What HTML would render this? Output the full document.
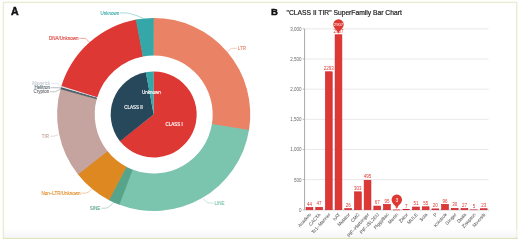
<!DOCTYPE html>
<html><head><meta charset="utf-8"><style>
html,body{margin:0;padding:0;background:#fff;}
body{width:520px;height:241px;overflow:hidden;}
svg{display:block;font-family:"Liberation Sans",sans-serif;will-change:transform;}
</style></head><body>
<svg width="520" height="241" viewBox="0 0 520 241">
<rect x="3.4" y="2.4" width="513.3" height="235.8" fill="none" stroke="#eaecd2" stroke-width="1.4"/>
<line x1="3" y1="238.4" x2="518" y2="238.4" stroke="#dde2c0" stroke-width="1.4"/>
<defs><linearGradient id="bb" x1="0" y1="0" x2="0" y2="1"><stop offset="0" stop-color="#fefefb"/><stop offset="0.55" stop-color="#f9f9fc"/><stop offset="1" stop-color="#f6f6fa"/></linearGradient></defs>
<rect x="4" y="229.5" width="512.5" height="8" fill="url(#bb)"/>
<text x="10.9" y="15.1" font-size="10.6" font-weight="bold" fill="#111" stroke="#111" stroke-width="0.45">A</text>
<text x="270.9" y="15.3" font-size="9.6" font-weight="bold" fill="#111" stroke="#111" stroke-width="0.4">B</text>
<path d="M153.11,17.90 A96.6,96.6 0 0 1 248.93,130.69 L211.87,124.39 A59.0,59.0 0 0 0 153.34,55.50 Z" fill="#ea8366"/>
<path d="M249.03,130.11 A96.6,96.6 0 0 1 118.85,204.59 L132.41,169.53 A59.0,59.0 0 0 0 211.92,124.03 Z" fill="#7bc4ae"/>
<path d="M119.40,204.80 A96.6,96.6 0 0 1 108.57,199.91 L126.14,166.67 A59.0,59.0 0 0 0 132.75,169.65 Z" fill="#58a48b"/>
<path d="M109.10,200.19 A96.6,96.6 0 0 1 77.63,174.04 L107.24,150.86 A59.0,59.0 0 0 0 126.46,166.83 Z" fill="#de8822"/>
<path d="M78.00,174.50 A96.6,96.6 0 0 1 60.59,88.77 L96.83,98.78 A59.0,59.0 0 0 0 107.46,151.15 Z" fill="#c5a39e"/>
<path d="M60.44,89.34 A96.6,96.6 0 0 1 60.89,87.71 L97.01,98.14 A59.0,59.0 0 0 0 96.74,99.13 Z" fill="#58666a"/>
<path d="M60.73,88.28 A96.6,96.6 0 0 1 61.20,86.66 L97.20,97.50 A59.0,59.0 0 0 0 96.92,98.49 Z" fill="#3e5562"/>
<path d="M61.03,87.23 A96.6,96.6 0 0 1 61.55,85.53 L97.42,96.81 A59.0,59.0 0 0 0 97.10,97.84 Z" fill="#e2e6ea"/>
<path d="M61.37,86.10 A96.6,96.6 0 0 1 136.34,19.47 L143.10,56.46 A59.0,59.0 0 0 0 97.31,97.15 Z" fill="#de3834"/>
<path d="M135.76,19.58 A96.6,96.6 0 0 1 153.70,17.90 L153.70,55.50 A59.0,59.0 0 0 0 142.75,56.53 Z" fill="#36a7a8"/>
<path d="M153.70,114.50 L153.44,71.50 A43.0,43.0 0 1 1 119.79,140.94 Z" fill="#de3834"/>
<path d="M153.70,114.50 L119.95,141.15 A43.0,43.0 0 0 1 145.97,72.20 Z" fill="#27475a"/>
<path d="M153.70,114.50 L145.72,72.25 A43.0,43.0 0 0 1 153.70,71.50 Z" fill="#36a7a8"/>
<text x="174.20" y="126.10" font-size="4.5" fill="#fff" text-anchor="middle" stroke="#fff" stroke-width="0.15">CLASS I</text>
<text x="133.50" y="108.50" font-size="4.5" fill="#fff" text-anchor="middle" stroke="#fff" stroke-width="0.15">CLASS II</text>
<text x="151.50" y="94.20" font-size="4.5" fill="#fff" text-anchor="middle" stroke="#fff" stroke-width="0.15">Unknown</text>
<path d="M143.6,18.4 Q131,12.9 125,12.9 L120,12.9" fill="none" stroke="#36a7a8" stroke-width="0.5" stroke-opacity="0.85"/>
<text x="119.30" y="14.50" font-size="4.5" fill="#36a7a8" text-anchor="end" stroke="#36a7a8" stroke-width="0.1">Unknown</text>
<path d="M89.6,42.4 L85.6,38.4 L79.4,38.4" fill="none" stroke="#de3834" stroke-width="0.5" stroke-opacity="0.85"/>
<text x="78.60" y="40.00" font-size="4.5" fill="#de3834" text-anchor="end" stroke="#de3834" stroke-width="0.1">DNA/Unknown</text>
<path d="M227.5,51.6 L231.4,48.3 L236.8,48.3" fill="none" stroke="#ea8366" stroke-width="0.5" stroke-opacity="0.85"/>
<text x="237.80" y="49.90" font-size="4.5" fill="#ea8366" text-anchor="start" stroke="#ea8366" stroke-width="0.1">LTR</text>
<path d="M60.3,86.9 L58.4,83.6 L50.9,83.6" fill="none" stroke="#c4ccd3" stroke-width="0.5" stroke-opacity="0.85"/>
<text x="50.30" y="84.60" font-size="4.5" fill="#c4ccd3" text-anchor="end" stroke="#c4ccd3" stroke-width="0.1">Maverick</text>
<path d="M60.6,87.8 L50.6,87.7" fill="none" stroke="#506671" stroke-width="0.5" stroke-opacity="0.85"/>
<text x="50.10" y="89.30" font-size="4.5" fill="#506671" text-anchor="end" stroke="#506671" stroke-width="0.1">Helitron</text>
<path d="M60.2,89.2 L55.2,91.8 L49.9,91.8" fill="none" stroke="#6e7074" stroke-width="0.5" stroke-opacity="0.85"/>
<text x="49.30" y="93.20" font-size="4.5" fill="#6e7074" text-anchor="end" stroke="#6e7074" stroke-width="0.1">Crypton</text>
<path d="M58.2,134.6 L54.2,136.2 L50.2,136.2" fill="none" stroke="#c5a39e" stroke-width="0.5" stroke-opacity="0.85"/>
<text x="49.00" y="137.80" font-size="4.5" fill="#c5a39e" text-anchor="end" stroke="#c5a39e" stroke-width="0.1">TIR</text>
<path d="M91.6,189.2 Q88,193.1 85.8,193.1 L81.2,193.1" fill="none" stroke="#de8822" stroke-width="0.5" stroke-opacity="0.85"/>
<text x="80.40" y="194.70" font-size="4.5" fill="#de8822" text-anchor="end" stroke="#de8822" stroke-width="0.1">Non&#8211;LTR/Unknown</text>
<path d="M113.8,202.4 Q108,208.2 105.8,208.2 L101.2,208.2" fill="none" stroke="#58a48b" stroke-width="0.5" stroke-opacity="0.85"/>
<text x="100.20" y="209.80" font-size="4.5" fill="#58a48b" text-anchor="end" stroke="#58a48b" stroke-width="0.1">SINE</text>
<path d="M203.1,198.9 L208,203 L213.6,203" fill="none" stroke="#7bc4ae" stroke-width="0.5" stroke-opacity="0.85"/>
<text x="214.60" y="204.60" font-size="4.5" fill="#7bc4ae" text-anchor="start" stroke="#7bc4ae" stroke-width="0.1">LINE</text>
<text x="286.6" y="14.9" font-size="6.72" fill="#222" stroke="#222" stroke-width="0.2">"CLASS II TIR" SuperFamily Bar Chart</text>
<line x1="302.8" y1="209.80" x2="304.6" y2="209.80" stroke="#888" stroke-width="0.6"/>
<text x="301.60" y="211.80" font-size="4.5" fill="#666" text-anchor="end" >0</text>
<line x1="304.6" y1="179.64" x2="488.6" y2="179.64" stroke="#e3e3e3" stroke-width="0.8"/>
<line x1="302.8" y1="179.64" x2="304.6" y2="179.64" stroke="#888" stroke-width="0.6"/>
<text x="301.60" y="181.64" font-size="4.5" fill="#666" text-anchor="end" >500</text>
<line x1="304.6" y1="149.48" x2="488.6" y2="149.48" stroke="#e3e3e3" stroke-width="0.8"/>
<line x1="302.8" y1="149.48" x2="304.6" y2="149.48" stroke="#888" stroke-width="0.6"/>
<text x="301.60" y="151.48" font-size="4.5" fill="#666" text-anchor="end" >1,000</text>
<line x1="304.6" y1="119.33" x2="488.6" y2="119.33" stroke="#e3e3e3" stroke-width="0.8"/>
<line x1="302.8" y1="119.33" x2="304.6" y2="119.33" stroke="#888" stroke-width="0.6"/>
<text x="301.60" y="121.33" font-size="4.5" fill="#666" text-anchor="end" >1,500</text>
<line x1="304.6" y1="89.17" x2="488.6" y2="89.17" stroke="#e3e3e3" stroke-width="0.8"/>
<line x1="302.8" y1="89.17" x2="304.6" y2="89.17" stroke="#888" stroke-width="0.6"/>
<text x="301.60" y="91.17" font-size="4.5" fill="#666" text-anchor="end" >2,000</text>
<line x1="304.6" y1="59.01" x2="488.6" y2="59.01" stroke="#e3e3e3" stroke-width="0.8"/>
<line x1="302.8" y1="59.01" x2="304.6" y2="59.01" stroke="#888" stroke-width="0.6"/>
<text x="301.60" y="61.01" font-size="4.5" fill="#666" text-anchor="end" >2,500</text>
<line x1="304.6" y1="28.85" x2="488.6" y2="28.85" stroke="#e3e3e3" stroke-width="0.8"/>
<line x1="302.8" y1="28.85" x2="304.6" y2="28.85" stroke="#888" stroke-width="0.6"/>
<text x="301.60" y="30.85" font-size="4.5" fill="#666" text-anchor="end" >3,000</text>
<line x1="304.6" y1="28.85" x2="304.6" y2="209.8" stroke="#a8a8a8" stroke-width="1.0"/>
<line x1="304.6" y1="209.8" x2="488.6" y2="209.8" stroke="#ccc" stroke-width="0.6"/>
<line x1="304.60" y1="209.8" x2="304.60" y2="211.4" stroke="#ccc" stroke-width="0.5"/>
<line x1="314.28" y1="209.8" x2="314.28" y2="211.4" stroke="#ccc" stroke-width="0.5"/>
<line x1="323.97" y1="209.8" x2="323.97" y2="211.4" stroke="#ccc" stroke-width="0.5"/>
<line x1="333.65" y1="209.8" x2="333.65" y2="211.4" stroke="#ccc" stroke-width="0.5"/>
<line x1="343.34" y1="209.8" x2="343.34" y2="211.4" stroke="#ccc" stroke-width="0.5"/>
<line x1="353.02" y1="209.8" x2="353.02" y2="211.4" stroke="#ccc" stroke-width="0.5"/>
<line x1="362.71" y1="209.8" x2="362.71" y2="211.4" stroke="#ccc" stroke-width="0.5"/>
<line x1="372.39" y1="209.8" x2="372.39" y2="211.4" stroke="#ccc" stroke-width="0.5"/>
<line x1="382.07" y1="209.8" x2="382.07" y2="211.4" stroke="#ccc" stroke-width="0.5"/>
<line x1="391.76" y1="209.8" x2="391.76" y2="211.4" stroke="#ccc" stroke-width="0.5"/>
<line x1="401.44" y1="209.8" x2="401.44" y2="211.4" stroke="#ccc" stroke-width="0.5"/>
<line x1="411.13" y1="209.8" x2="411.13" y2="211.4" stroke="#ccc" stroke-width="0.5"/>
<line x1="420.81" y1="209.8" x2="420.81" y2="211.4" stroke="#ccc" stroke-width="0.5"/>
<line x1="430.49" y1="209.8" x2="430.49" y2="211.4" stroke="#ccc" stroke-width="0.5"/>
<line x1="440.18" y1="209.8" x2="440.18" y2="211.4" stroke="#ccc" stroke-width="0.5"/>
<line x1="449.86" y1="209.8" x2="449.86" y2="211.4" stroke="#ccc" stroke-width="0.5"/>
<line x1="459.55" y1="209.8" x2="459.55" y2="211.4" stroke="#ccc" stroke-width="0.5"/>
<line x1="469.23" y1="209.8" x2="469.23" y2="211.4" stroke="#ccc" stroke-width="0.5"/>
<line x1="478.92" y1="209.8" x2="478.92" y2="211.4" stroke="#ccc" stroke-width="0.5"/>
<line x1="488.60" y1="209.8" x2="488.60" y2="211.4" stroke="#ccc" stroke-width="0.5"/>
<rect x="306.04" y="207.45" width="6.80" height="2.35" fill="#de3834" stroke="#c91f2c" stroke-width="0.6"/>
<text x="309.44" y="205.65" font-size="4.5" fill="#de3834" text-anchor="middle" >44</text>
<text x="310.34" y="215.30" font-size="4.7" fill="#555" stroke="#555" stroke-width="0.05" text-anchor="end" transform="rotate(-48 310.34 213.80)">Academ</text>
<rect x="315.73" y="207.27" width="6.80" height="2.53" fill="#de3834" stroke="#c91f2c" stroke-width="0.6"/>
<text x="319.13" y="205.47" font-size="4.5" fill="#de3834" text-anchor="middle" >47</text>
<text x="320.03" y="215.30" font-size="4.7" fill="#555" stroke="#555" stroke-width="0.05" text-anchor="end" transform="rotate(-48 320.03 213.80)">CACTA</text>
<rect x="325.41" y="71.79" width="6.80" height="138.01" fill="#de3834" stroke="#c91f2c" stroke-width="0.6"/>
<text x="328.81" y="69.99" font-size="4.5" fill="#de3834" text-anchor="middle" >2293</text>
<text x="329.71" y="215.30" font-size="4.7" fill="#555" stroke="#555" stroke-width="0.05" text-anchor="end" transform="rotate(-48 329.71 213.80)">Tc1&#8211;Mariner</text>
<rect x="335.09" y="34.76" width="6.80" height="175.04" fill="#de3834" stroke="#c91f2c" stroke-width="0.6"/>
<text x="338.49" y="32.96" font-size="4.5" fill="#de3834" text-anchor="middle" >2907</text>
<text x="339.39" y="215.30" font-size="4.7" fill="#555" stroke="#555" stroke-width="0.05" text-anchor="end" transform="rotate(-48 339.39 213.80)">hAT</text>
<rect x="344.78" y="208.53" width="6.80" height="1.27" fill="#de3834" stroke="#c91f2c" stroke-width="0.6"/>
<text x="348.18" y="206.73" font-size="4.5" fill="#de3834" text-anchor="middle" >26</text>
<text x="349.08" y="215.30" font-size="4.7" fill="#555" stroke="#555" stroke-width="0.05" text-anchor="end" transform="rotate(-48 349.08 213.80)">Mutator</text>
<rect x="354.46" y="191.82" width="6.80" height="17.98" fill="#de3834" stroke="#c91f2c" stroke-width="0.6"/>
<text x="357.86" y="190.02" font-size="4.5" fill="#de3834" text-anchor="middle" >303</text>
<text x="358.76" y="215.30" font-size="4.7" fill="#555" stroke="#555" stroke-width="0.05" text-anchor="end" transform="rotate(-48 358.76 213.80)">CMC</text>
<rect x="364.15" y="180.24" width="6.80" height="29.56" fill="#de3834" stroke="#c91f2c" stroke-width="0.6"/>
<text x="367.55" y="178.44" font-size="4.5" fill="#de3834" text-anchor="middle" >495</text>
<text x="368.45" y="215.30" font-size="4.7" fill="#555" stroke="#555" stroke-width="0.05" text-anchor="end" transform="rotate(-48 368.45 213.80)">PIF&#8211;Harbinger</text>
<rect x="373.83" y="206.06" width="6.80" height="3.74" fill="#de3834" stroke="#c91f2c" stroke-width="0.6"/>
<text x="377.23" y="204.26" font-size="4.5" fill="#de3834" text-anchor="middle" >67</text>
<text x="378.13" y="215.30" font-size="4.7" fill="#555" stroke="#555" stroke-width="0.05" text-anchor="end" transform="rotate(-48 378.13 213.80)">PIF&#8211;ISL2EU</text>
<rect x="383.52" y="204.37" width="6.80" height="5.43" fill="#de3834" stroke="#c91f2c" stroke-width="0.6"/>
<text x="386.92" y="202.57" font-size="4.5" fill="#de3834" text-anchor="middle" >95</text>
<text x="387.82" y="215.30" font-size="4.7" fill="#555" stroke="#555" stroke-width="0.05" text-anchor="end" transform="rotate(-48 387.82 213.80)">PiggyBac</text>
<rect x="393.20" y="209.92" width="6.80" height="0.05" fill="#de3834" stroke="#c91f2c" stroke-width="0.6"/>
<text x="396.60" y="208.12" font-size="4.5" fill="#de3834" text-anchor="middle" >3</text>
<text x="397.50" y="215.30" font-size="4.7" fill="#555" stroke="#555" stroke-width="0.05" text-anchor="end" transform="rotate(-48 397.50 213.80)">Merlin</text>
<rect x="402.88" y="209.68" width="6.80" height="0.12" fill="#de3834" stroke="#c91f2c" stroke-width="0.6"/>
<text x="406.28" y="207.88" font-size="4.5" fill="#de3834" text-anchor="middle" >7</text>
<text x="407.18" y="215.30" font-size="4.7" fill="#555" stroke="#555" stroke-width="0.05" text-anchor="end" transform="rotate(-48 407.18 213.80)">Zator</text>
<rect x="412.57" y="207.02" width="6.80" height="2.78" fill="#de3834" stroke="#c91f2c" stroke-width="0.6"/>
<text x="415.97" y="205.22" font-size="4.5" fill="#de3834" text-anchor="middle" >51</text>
<text x="416.87" y="215.30" font-size="4.7" fill="#555" stroke="#555" stroke-width="0.05" text-anchor="end" transform="rotate(-48 416.87 213.80)">MULE</text>
<rect x="422.25" y="206.78" width="6.80" height="3.02" fill="#de3834" stroke="#c91f2c" stroke-width="0.6"/>
<text x="425.65" y="204.98" font-size="4.5" fill="#de3834" text-anchor="middle" >55</text>
<text x="426.55" y="215.30" font-size="4.7" fill="#555" stroke="#555" stroke-width="0.05" text-anchor="end" transform="rotate(-48 426.55 213.80)">Sola</text>
<rect x="431.94" y="208.89" width="6.80" height="0.91" fill="#de3834" stroke="#c91f2c" stroke-width="0.6"/>
<text x="435.34" y="207.09" font-size="4.5" fill="#de3834" text-anchor="middle" >20</text>
<text x="436.24" y="215.30" font-size="4.7" fill="#555" stroke="#555" stroke-width="0.05" text-anchor="end" transform="rotate(-48 436.24 213.80)">P</text>
<rect x="441.62" y="204.31" width="6.80" height="5.49" fill="#de3834" stroke="#c91f2c" stroke-width="0.6"/>
<text x="445.02" y="202.51" font-size="4.5" fill="#de3834" text-anchor="middle" >96</text>
<text x="445.92" y="215.30" font-size="4.7" fill="#555" stroke="#555" stroke-width="0.05" text-anchor="end" transform="rotate(-48 445.92 213.80)">Kolobok</text>
<rect x="451.31" y="208.29" width="6.80" height="1.51" fill="#de3834" stroke="#c91f2c" stroke-width="0.6"/>
<text x="454.71" y="206.49" font-size="4.5" fill="#de3834" text-anchor="middle" >30</text>
<text x="455.61" y="215.30" font-size="4.7" fill="#555" stroke="#555" stroke-width="0.05" text-anchor="end" transform="rotate(-48 455.61 213.80)">Ginger</text>
<rect x="460.99" y="208.47" width="6.80" height="1.33" fill="#de3834" stroke="#c91f2c" stroke-width="0.6"/>
<text x="464.39" y="206.67" font-size="4.5" fill="#de3834" text-anchor="middle" >27</text>
<text x="465.29" y="215.30" font-size="4.7" fill="#555" stroke="#555" stroke-width="0.05" text-anchor="end" transform="rotate(-48 465.29 213.80)">Dada</text>
<rect x="470.67" y="209.80" width="6.80" height="0.05" fill="#de3834" stroke="#c91f2c" stroke-width="0.6"/>
<text x="474.07" y="208.00" font-size="4.5" fill="#de3834" text-anchor="middle" >5</text>
<text x="474.97" y="215.30" font-size="4.7" fill="#555" stroke="#555" stroke-width="0.05" text-anchor="end" transform="rotate(-48 474.97 213.80)">Zisupton</text>
<rect x="480.36" y="208.71" width="6.80" height="1.09" fill="#de3834" stroke="#c91f2c" stroke-width="0.6"/>
<text x="483.76" y="206.91" font-size="4.5" fill="#de3834" text-anchor="middle" >23</text>
<text x="484.66" y="215.30" font-size="4.7" fill="#555" stroke="#555" stroke-width="0.05" text-anchor="end" transform="rotate(-48 484.66 213.80)">Novosib</text>
<path d="M333.79,26.78 A5.21,5.21 0 1 1 343.20,26.78 C341.86,29.60 338.49,30.82 338.49,34.46 C338.49,30.82 335.13,29.60 333.79,26.78 Z" fill="#de3834"/><text x="338.49" y="26.06" font-size="4.2" fill="#fff" text-anchor="middle" >2907</text>
<path d="M392.10,201.94 A5.21,5.21 0 1 1 401.50,201.94 C400.16,204.76 396.80,205.98 396.80,209.62 C396.80,205.98 393.44,204.76 392.10,201.94 Z" fill="#de3834"/><text x="396.80" y="201.50" font-size="5.0" fill="#fff" text-anchor="middle" >3</text>
</svg>
</body></html>
